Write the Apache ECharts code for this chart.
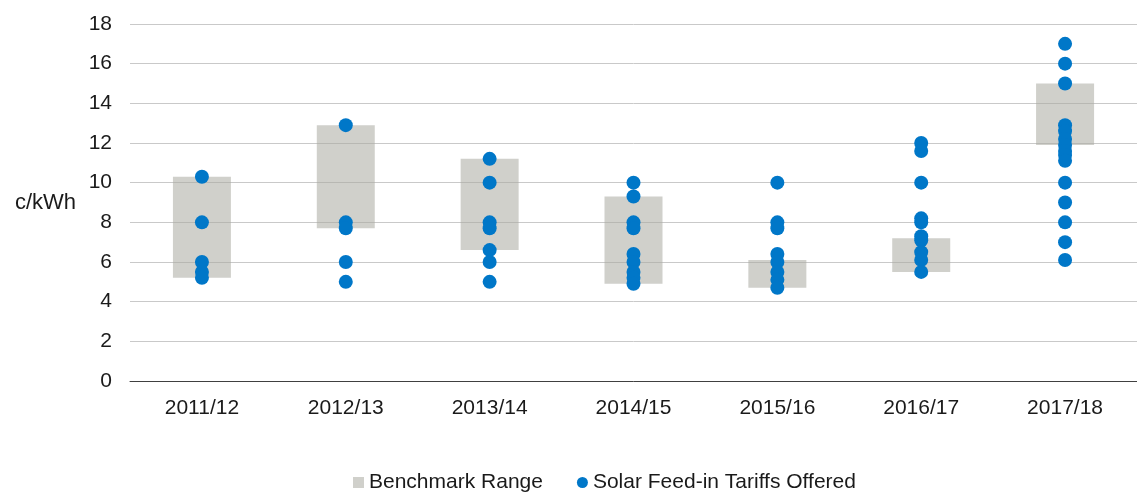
<!DOCTYPE html>
<html><head><meta charset="utf-8">
<script src="https://cdn.jsdelivr.net/npm/echarts@6/dist/echarts.min.js"></script>
<style>html,body{margin:0;padding:0;background:#fff}#c{width:1137px;height:493px}</style>
</head><body><div id="c"></div>
<script>
const categories = ['2011/12','2012/13','2013/14','2014/15','2015/16','2016/17','2017/18'];
const benchmarkLow  = [5.2, 7.7, 6.6, 4.9, 4.7, 5.5, 11.9];
const benchmarkHigh = [10.3, 12.9, 11.2, 9.3, 6.1, 7.2, 15.0];
const tariffs = [
  [10.3, 8.0, 6.0, 5.5, 5.2],
  [12.9, 8.0, 7.7, 6.0, 5.0],
  [11.2, 10.0, 8.0, 7.7, 6.6, 6.0, 5.0],
  [10.0, 9.3, 8.0, 7.7, 6.4, 6.0, 5.5, 5.2, 4.9],
  [10.0, 8.0, 7.7, 6.4, 6.0, 5.5, 5.1, 4.7],
  [12.0, 11.6, 10.0, 8.2, 8.0, 7.3, 7.1, 6.5, 6.1, 5.5],
  [17.0, 16.0, 15.0, 12.9, 12.6, 12.2, 11.9, 11.6, 11.4, 11.1, 10.0, 9.0, 8.0, 7.0, 6.1]
];
const yTicks = {min: 0, max: 18, interval: 2};

const scatterData = [];
tariffs.forEach((vals, i) => vals.forEach(v => scatterData.push([categories[i], v])));
const rangeData = benchmarkHigh.map((h, i) => +(h - benchmarkLow[i]).toFixed(2));

const font = 'Liberation Sans, Arial, sans-serif';
const chart = echarts.init(document.getElementById('c'), null, {renderer: 'canvas'});
chart.setOption({
  animation: false,
  textStyle: {fontFamily: font},
  grid: {left: 130, top: 24, width: 1015, height: 357, containLabel: false},
  xAxis: {
    type: 'category', data: categories,
    axisLine: {lineStyle: {color: '#404040', width: 1}},
    axisTick: {show: false},
    axisLabel: {color: '#1a1a1a', fontSize: 21, margin: 17, fontFamily: font}
  },
  yAxis: {
    type: 'value', min: yTicks.min, max: yTicks.max, interval: yTicks.interval,
    name: 'c/kWh', nameLocation: 'middle', nameRotate: 0, nameGap: 54,
    nameTextStyle: {color: '#1a1a1a', fontSize: 22, fontFamily: font, align: 'right', padding: [16, 0, 0, 0]},
    axisLine: {show: false}, axisTick: {show: false},
    axisLabel: {color: '#1a1a1a', fontSize: 21, margin: 18, fontFamily: font},
    splitLine: {lineStyle: {color: '#c9c9c9', width: 1}}
  },
  legend: {
    bottom: -5, left: 348, itemGap: 34, itemWidth: 11, itemHeight: 11,
    textStyle: {color: '#1a1a1a', fontSize: 21, fontFamily: font},
    data: [{name: 'Benchmark Range', icon: 'rect'}, {name: 'Solar Feed-in Tariffs Offered', icon: 'circle'}]
  },
  series: [
    {name: 'base', type: 'bar', stack: 'b', data: benchmarkLow, barWidth: 58,
     itemStyle: {color: 'rgba(0,0,0,0)'}, silent: true},
    {name: 'Benchmark Range', type: 'bar', stack: 'b', data: rangeData, barWidth: 58,
     itemStyle: {color: 'rgba(170,170,160,0.55)'}},
    {name: 'Solar Feed-in Tariffs Offered', type: 'scatter', data: scatterData,
     symbolSize: 14, itemStyle: {color: '#0077c8', opacity: 1}, z: 5}
  ]
});
</script></body></html>
